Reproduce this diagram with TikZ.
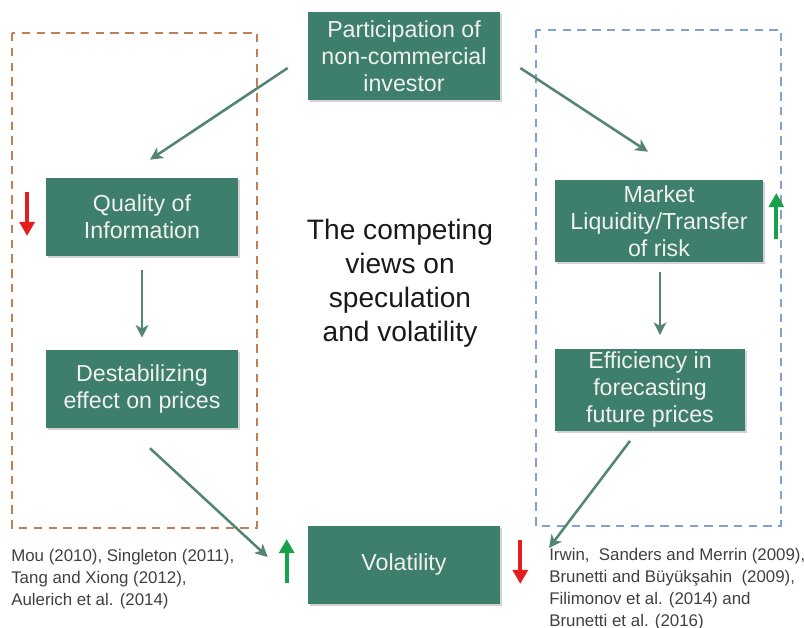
\documentclass[tikz,border=0pt]{standalone}
\usepackage{fontspec}
\setmainfont{Liberation Sans}
\usetikzlibrary{arrows.meta,shadows}

\definecolor{boxgreen}{RGB}{62,126,108}
\definecolor{flowgreen}{RGB}{84,132,118}
\definecolor{leftdash}{RGB}{196,126,84}
\definecolor{rightdash}{RGB}{130,162,204}
\definecolor{upgreen}{RGB}{24,160,74}
\definecolor{downred}{RGB}{226,30,30}
\definecolor{reftext}{RGB}{64,64,64}

\begin{document}
\begin{tikzpicture}[x=0.025cm,y=-0.025cm,
    box/.style={fill=boxgreen,text=white!94!black,align=center,inner sep=2pt,
      font=\fontsize{16.5}{19.2}\selectfont,
      drop shadow={shadow xshift=1.5pt,shadow yshift=-1.5pt,opacity=0.35}},
    flow/.style={draw=flowgreen,line width=1.8pt,-{Stealth[length=9pt,width=9pt,inset=2.5pt]}},
    sign/.style={line width=2.8pt,-{Triangle[length=10pt,width=10.5pt]}},
    refs/.style={text=reftext,align=left,anchor=north west,inner sep=0pt,
      font=\fontsize{12}{15.6}\selectfont}]
  \useasboundingbox (0,0) rectangle (804,628);

  % the two camps
  \draw[leftdash,line width=1pt,dash pattern=on 6pt off 4.5pt] (12,33) rectangle (257,528);
  \draw[rightdash,line width=1pt,dash pattern=on 6pt off 4.5pt] (536,30) rectangle (781,526);

  % boxes
  \node[box,minimum width=4.8cm,minimum height=2.2cm] (part) at (404,56)
    {Participation of\\non-commercial\\investor};
  \node[box,minimum width=4.78cm,minimum height=1.95cm] (quality) at (142,217)
    {Quality of\\Information};
  \node[box,minimum width=4.78cm,minimum height=1.95cm] (destab) at (142,389)
    {Destabilizing\\effect on prices};
  \node[box,minimum width=5.2cm,minimum height=2.05cm] (market) at (659,221)
    {Market\\Liquidity/Transfer\\of risk};
  \node[box,minimum width=4.75cm,minimum height=2cm] (effic) at (650,390)
    {Efficiency in\\forecasting\\future prices};
  \node[box,minimum width=4.8cm,minimum height=1.95cm] (vol) at (404,565)
    {Volatility};

  \node[align=center,text=black!90,font=\fontsize{20}{24.2}\selectfont] (title) at (400,283)
    {The competing\\views on\\speculation\\and volatility};

  % references
  \node[refs] (leftrefs) at (11,549)
    {Mou (2010), Singleton (2011),\\Tang and Xiong (2012),\\Aulerich et al. (2014)};
  \node[refs] (rightrefs) at (549,548)
    {Irwin,\ \ Sanders and Merrin (2009),\\Brunetti and Büyükşahin\ \ (2009),\\Filimonov et al. (2014) and\\Brunetti\ et al. (2016)};

  % flows
  \draw[flow] ([shift={(-20,12)}]part.west) -- ([shift={(8,-18)}]quality.north);
  \draw[flow] ([shift={(20,12)}]part.east) -- ([shift={(-11,-28)}]market.north);
  \draw[flow] ([yshift=-0.35cm]quality.south) -- ([yshift=0.3cm]destab.north);
  \draw[flow] ([shift={(1,10)}]market.south) -- ([shift={(10,-14)}]effic.north);
  \draw[flow] ([shift={(8,20)}]destab.south) -- ([shift={(-40,-8)}]vol.west);
  \draw[flow] ([shift={(-20,10)}]effic.south) -- ([shift={(0,0)}]rightrefs.north west);

  % up and down signs
  \draw[sign,downred] ([shift={(-19,-25)}]quality.west) -- ++(0,44);
  \draw[sign,upgreen] ([shift={(13,18)}]market.east) -- ++(0,-46);
  \draw[sign,upgreen] ([shift={(-21,18)}]vol.west) -- ++(0,-44);
  \draw[sign,downred] ([shift={(20,-25)}]vol.east) -- ++(0,44);
\end{tikzpicture}
\end{document}
